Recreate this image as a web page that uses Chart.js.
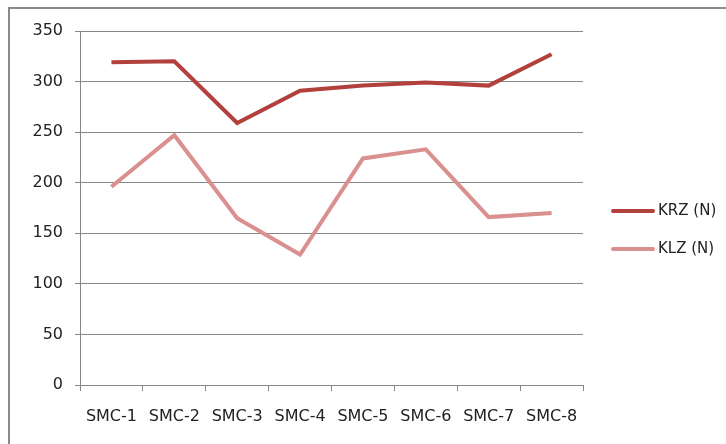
<!DOCTYPE html>
<html>
<head>
<meta charset="utf-8">
<script src="https://cdn.jsdelivr.net/npm/chart.js@4/dist/chart.umd.min.js"></script>
<style>
  html, body { margin: 0; padding: 0; background: #fff; }
  #wrap { width: 726px; height: 444px; position: relative; }
</style>
</head>
<body>
<div id="wrap"><canvas id="c" width="726" height="444"></canvas></div>
<script>
const categories = ['SMC-1', 'SMC-2', 'SMC-3', 'SMC-4', 'SMC-5', 'SMC-6', 'SMC-7', 'SMC-8'];
const seriesNames = ['KRZ (N)', 'KLZ (N)'];
const krzValues = [319, 320, 259, 291, 296, 299, 296, 327];
const klzValues = [196, 247, 165, 129, 224, 233, 166, 170];
const yTicks = [0, 50, 100, 150, 200, 250, 300, 350];

const FONT = { family: 'DejaVu Sans', size: 16 };
const LEGEND_FONT = { family: 'DejaVu Sans', size: 15 };
const GRID = '#868686';

// frame around the whole chart, open to the right and bottom
const framePlugin = {
  id: 'frame',
  beforeDraw(chart) {
    const ctx = chart.ctx;
    ctx.save();
    ctx.strokeStyle = '#8a8a8a';
    ctx.lineWidth = 2;
    ctx.strokeRect(9, 8, 900, 600);
    ctx.restore();
  }
};

// legend: short line sample followed by the series name
const legendPlugin = {
  id: 'sideLegend',
  afterDraw(chart) {
    const ctx = chart.ctx;
    const x0 = 613, lineLen = 40, rowY = [211, 249];
    ctx.save();
    chart.data.datasets.forEach((ds, i) => {
      const y = rowY[i];
      ctx.strokeStyle = ds.borderColor;
      ctx.lineWidth = ds.borderWidth;
      ctx.lineCap = 'round';
      ctx.beginPath();
      ctx.moveTo(x0, y);
      ctx.lineTo(x0 + lineLen, y);
      ctx.stroke();
      ctx.fillStyle = '#222';
      ctx.font = LEGEND_FONT.size + 'px ' + LEGEND_FONT.family;
      ctx.textBaseline = 'middle';
      ctx.fillText(ds.label, x0 + lineLen + 5, y);
    });
    ctx.restore();
  }
};

new Chart(document.getElementById('c'), {
  type: 'line',
  data: {
    labels: categories,
    datasets: [
      { label: seriesNames[0], data: krzValues, borderColor: '#B2413E', borderWidth: 4, pointRadius: 0, tension: 0 },
      { label: seriesNames[1], data: klzValues, borderColor: '#D9908E', borderWidth: 4, pointRadius: 0, tension: 0 }
    ]
  },
  options: {
    responsive: false,
    animation: false,
    devicePixelRatio: 1,
    layout: { padding: { left: 0, top: 31, right: 143, bottom: 0 } },
    plugins: { legend: { display: false }, tooltip: { enabled: false } },
    scales: {
      x: {
        offset: true,
        grid: { display: true, drawOnChartArea: false, drawTicks: true, tickLength: 6, offset: true, color: GRID },
        border: { display: true, color: GRID, width: 1 },
        ticks: { font: FONT, color: '#222', padding: 16, maxRotation: 0, autoSkip: false },
        afterFit(scale) { scale.height = 59; }
      },
      y: {
        min: 0,
        max: 350,
        afterBuildTicks(scale) { scale.ticks = yTicks.map(v => ({ value: v })); },
        grid: { color: GRID, tickLength: 5, drawTicks: true },
        border: { display: true, color: GRID, width: 1 },
        ticks: { font: FONT, color: '#222', padding: 12 },
        afterFit(scale) { scale.width = 80; }
      }
    }
  },
  plugins: [framePlugin, legendPlugin]
});
</script>
</body>
</html>
